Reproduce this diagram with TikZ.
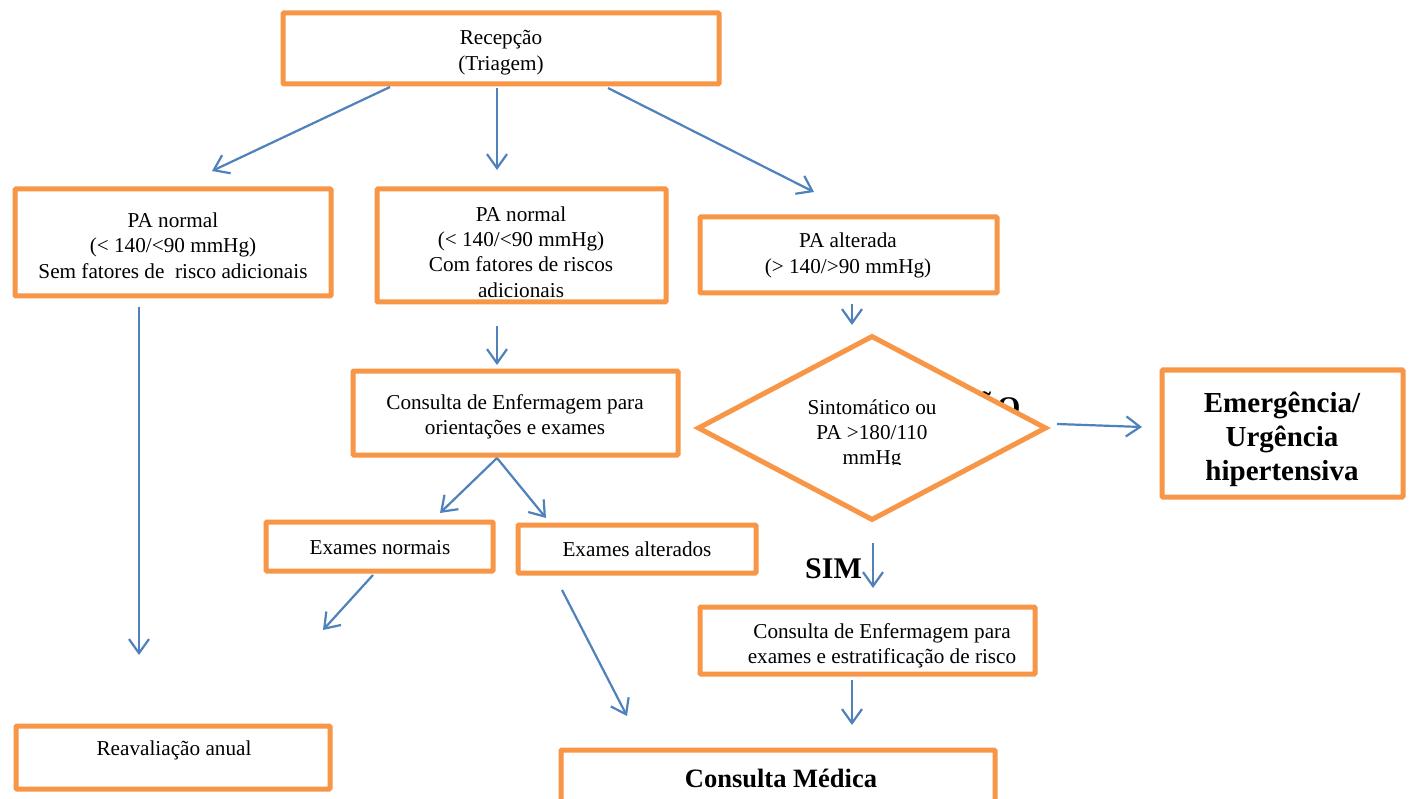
\documentclass[tikz,border=0pt]{standalone}
\usepackage{fontspec}
\setmainfont{Liberation Serif}
\usetikzlibrary{arrows.meta,shapes.geometric}
\definecolor{orng}{HTML}{F79646}
\definecolor{blu}{HTML}{4F81BD}
\begin{document}
\begin{tikzpicture}[x=1pt,y=-1pt,
 box/.style={draw=orng, line width=5pt, fill=white, inner sep=0pt, rounded corners=1pt},
 dia/.style={shape=diamond, draw=orng, line width=5pt, fill=white, inner sep=0pt},
 txt/.style={align=center, font=\fontsize{21.2}{25.3}\selectfont, inner sep=0pt},
 btxt/.style={align=center, font=\fontsize{29}{34}\selectfont\bfseries, inner sep=0pt},
 arr/.style={draw=blu, line width=2.2pt, -{Straight Barb[length=14pt,width=20pt]}}]
\useasboundingbox (0,0) rectangle (1413,799);
\clip (0,0) rectangle (1413,799);
\fill[white] (0,0) rectangle (1413,799);

% boxes
\node[box, minimum width=436pt, minimum height=71pt] (rec) at (501,48.5) {};
\node[txt] (trec) at (501,52.5) {Recepção\\(Triagem)};

\node[box, minimum width=316pt, minimum height=107pt] (pa1) at (173,242.5) {};
\node[txt] (tpa1) at (173,245.5) {PA normal\\(< 140/<90 mmHg)\\Sem fatores de\ \ risco adicionais};

\node[box, minimum width=289pt, minimum height=113pt] (pa2) at (521.5,245.5) {};
\node[txt] (tpa2) at (521,252) {PA normal\\(< 140/<90 mmHg)\\Com fatores de riscos\\adicionais};

\node[box, minimum width=297pt, minimum height=76pt] (pa3) at (848.5,255) {};
\node[txt] (tpa3) at (848,255.5) {PA alterada\\(> 140/>90 mmHg)};

\node[box, minimum width=325pt, minimum height=84pt] (ce1) at (515.5,413) {};
\node[txt] (tce1) at (515,416.5) {Consulta de Enfermagem para\\orientações e exames};

% NAO label partially hidden by diamond
\node[font=\fontsize{30}{34}\selectfont\bfseries, inner sep=0pt] (nao) at (987,405) {NÃO};

\node[dia, minimum width=349pt, minimum height=185pt] (dec) at (872,428) {};
\begin{scope}
\clip (760,380) rectangle (985,464.5);
\node[txt] (tdec) at (872,434.5) {Sintomático ou\\PA >180/110\\mmHg};
\end{scope}

\node[box, minimum width=241pt, minimum height=127pt] (em) at (1282.5,433.5) {};
\node[btxt] (tem) at (1282,439) {Emergência/\\Urgência\\hipertensiva};

\node[box, minimum width=227pt, minimum height=49pt] (en) at (379.5,546.5) {};
\node[txt] (ten) at (380,547.5) {Exames normais};

\node[box, minimum width=238pt, minimum height=48pt] (ea) at (637,549) {};
\node[txt] (tea) at (637,549.5) {Exames alterados};

\node[font=\fontsize{30}{34}\selectfont\bfseries, inner sep=0pt] (sim) at (833.5,569) {SIM};

\node[box, minimum width=335pt, minimum height=67pt] (ce2) at (867.5,640.5) {};
\node[txt] (tce2) at (882,645.5) {Consulta de Enfermagem para\\exames e estratificação de risco};

\node[box, minimum width=314pt, minimum height=63pt] (rea) at (173,757.5) {};
\node[txt] (trea) at (174,750.5) {Reavaliação anual};

\node[box, minimum width=434pt, minimum height=80pt] (cm) at (778,790) {};
\node[font=\fontsize{26.5}{30}\selectfont\bfseries, inner sep=0pt] (tcm) at (781,778) {Consulta Médica};

% arrow end points
\coordinate (a1s) at (390,87);   \coordinate (a1e) at (212,171);
\coordinate (a2s) at (497,88);   \coordinate (a2e) at (497,170);
\coordinate (a3s) at (608,88);   \coordinate (a3e) at (814,192);
\coordinate (a4s) at (139,307);  \coordinate (a4e) at (139,655);
\coordinate (a5s) at (497,326);  \coordinate (a5e) at (497,365);
\coordinate (a6s) at (852,304);  \coordinate (a6e) at (852,325);
\coordinate (a7s) at (497,458);  \coordinate (a7e) at (440,513);
\coordinate (a8e) at (546,518);
\coordinate (a9s) at (373,575);  \coordinate (a9e) at (323,630);
\coordinate (a10s) at (562,590); \coordinate (a10e) at (627,716);
\coordinate (a11s) at (1057,424);\coordinate (a11e) at (1142,427);
\coordinate (a12s) at (873,543); \coordinate (a12e) at (873,588);
\coordinate (a13s) at (852,680); \coordinate (a13e) at (852,725);

\draw[arr] (a1s) -- (a1e);
\draw[arr] (a2s) -- (a2e);
\draw[arr] (a3s) -- (a3e);
\draw[arr] (a4s) -- (a4e);
\draw[arr] (a5s) -- (a5e);
\draw[arr] (a6s) -- (a6e);
\draw[arr] (a7s) -- (a7e);
\draw[arr] (a7s) -- (a8e);
\draw[arr] (a9s) -- (a9e);
\draw[arr] (a10s) -- (a10e);
\draw[arr] (a11s) -- (a11e);
\draw[arr] (a12s) -- (a12e);
\draw[arr] (a13s) -- (a13e);
\end{tikzpicture}
\end{document}
